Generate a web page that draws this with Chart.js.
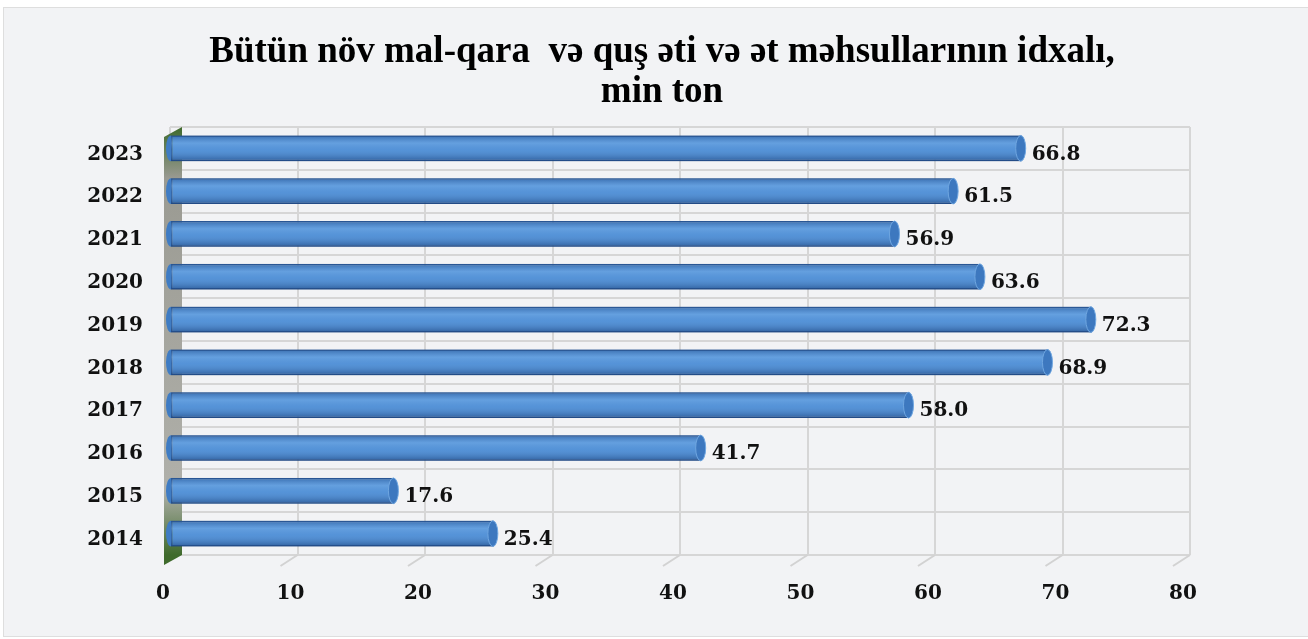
<!DOCTYPE html>
<html>
<head>
<meta charset="utf-8">
<script src="https://cdn.jsdelivr.net/npm/chart.js@4.4.0/dist/chart.umd.min.js"></script>
<style>
  body { margin: 0; background: #ffffff; }
  #wrap { position: absolute; left: 0; top: 0; width: 1308px; height: 639px; }
  #panel { position: absolute; left: 3px; top: 7px; width: 1304px; height: 628px;
           background: #f2f3f5; border: 1px solid #dedede; }
  #chart { position: absolute; left: 0; top: 0; }
</style>
</head>
<body>
<div id="wrap">
  <div id="panel"></div>
  <canvas id="chart" width="1308" height="639"></canvas>
</div>
<script>
// Chart data
var years = ['2014', '2015', '2016', '2017', '2018', '2019', '2020', '2021', '2022', '2023'];
var imports = [25.4, 17.6, 41.7, 58.0, 68.9, 72.3, 63.6, 56.9, 61.5, 66.8];
var titleLines = ['Bütün növ mal-qara  və quş əti və ət məhsullarının idxalı,', 'min ton'];
var xMin = 0, xMax = 80, xStep = 10;

var serif = '"DejaVu Serif", "Liberation Serif", serif';
var titleFont = '"Liberation Serif", "Times New Roman", serif';

// Left 3D wall and floor tick marks, drawn behind the bars
var wallPlugin = {
    id: 'wall',
    beforeDatasetsDraw: function (chart) {
        var ctx = chart.ctx, a = chart.chartArea;
        var g = ctx.createLinearGradient(0, a.top, 0, a.bottom);
        g.addColorStop(0, '#3f6a2c');
        g.addColorStop(0.12, '#9a9a92');
        g.addColorStop(0.85, '#b0b0aa');
        g.addColorStop(1, '#3f6a2c');
        ctx.save();
        ctx.fillStyle = g;
        ctx.beginPath();
        ctx.moveTo(a.left - 6, a.top + 10);
        ctx.lineTo(a.left + 12, a.top);
        ctx.lineTo(a.left + 12, a.bottom);
        ctx.lineTo(a.left - 6, a.bottom + 10);
        ctx.closePath();
        ctx.fill();
        // slanted floor marks under each x tick
        ctx.strokeStyle = '#d2d2d2';
        ctx.lineWidth = 2;
        chart.scales.x.ticks.forEach(function (t) {
            var px = chart.scales.x.getPixelForValue(t.value);
            if (px <= a.left + 1) return;
            ctx.beginPath();
            ctx.moveTo(px, a.bottom);
            ctx.lineTo(px - 17, a.bottom + 11);
            ctx.stroke();
        });
        ctx.restore();
    }
};

// Cylinder shading, end caps and value labels
var barPlugin = {
    id: 'bars3d',
    afterDatasetsDraw: function (chart) {
        var ctx = chart.ctx;
        var meta = chart.getDatasetMeta(0);
        ctx.save();
        meta.data.forEach(function (bar, i) {
            var h = bar.height, top = bar.y - h / 2;
            var g = ctx.createLinearGradient(0, top, 0, top + h);
            g.addColorStop(0, 'rgba(30,70,130,0.45)');
            g.addColorStop(0.3, 'rgba(140,190,240,0.35)');
            g.addColorStop(0.55, 'rgba(120,170,225,0.15)');
            g.addColorStop(1, 'rgba(20,55,110,0.55)');
            ctx.fillStyle = g;
            ctx.fillRect(bar.base, top, bar.x - bar.base, h);
            // right end cap
            ctx.beginPath();
            ctx.ellipse(bar.x - 1, bar.y, 5, h / 2, 0, 0, Math.PI * 2);
            ctx.fillStyle = '#3d78bf';
            ctx.fill();
            ctx.strokeStyle = '#6fa6e0';
            ctx.lineWidth = 1;
            ctx.stroke();
            // left end
            ctx.beginPath();
            ctx.ellipse(bar.base, bar.y, 5, h / 2, 0, Math.PI / 2, Math.PI * 1.5);
            ctx.fillStyle = '#3f7cc4';
            ctx.fill();
            // value label
            ctx.fillStyle = '#111';
            ctx.font = 'bold 20px ' + serif;
            ctx.textAlign = 'left';
            ctx.textBaseline = 'middle';
            ctx.fillText(imports[i].toFixed(1), bar.x + 10, bar.y + 6);
        });
        ctx.restore();
    }
};

var ctx = document.getElementById('chart').getContext('2d');
var myChart = new Chart(ctx, {
    type: 'bar',
    data: {
        labels: years,
        datasets: [{
            data: imports,
            backgroundColor: '#4f8fd6',
            borderColor: '#2c5c9c',
            borderWidth: 1.5,
            borderSkipped: false,
            categoryPercentage: 0.6,
            barPercentage: 1
        }]
    },
    options: {
        indexAxis: 'y',
        responsive: false,
        animation: false,
        layout: { padding: { left: 16, right: 0, top: 0, bottom: 0 } },
        plugins: {
            legend: { display: false },
            tooltip: { enabled: false },
            title: {
                display: true,
                text: titleLines,
                color: '#000',
                font: { family: titleFont, size: 37, weight: 'bold', lineHeight: 1.08 },
                padding: { top: 32, bottom: 15 }
            }
        },
        scales: {
            x: {
                min: xMin,
                max: xMax,
                ticks: {
                    stepSize: xStep,
                    color: '#111',
                    font: { family: serif, size: 20, weight: 'bold' },
                    padding: 27,
                    labelOffset: -7
                },
                grid: { color: '#d6d6d6', lineWidth: 2, drawTicks: false },
                border: { display: false },
                afterFit: function (axis) { axis.height = 84; }
            },
            y: {
                reverse: true,
                ticks: {
                    color: '#111',
                    font: { family: serif, size: 20, weight: 'bold' },
                    padding: 27,
                    labelOffset: 6
                },
                grid: { color: '#d6d6d6', lineWidth: 2, drawTicks: false, offset: true },
                border: { display: false },
                afterFit: function (axis) { axis.width = 154; }
            },
            // empty right axis, only reserves the right margin
            yRight: {
                type: 'category',
                labels: years,
                position: 'right',
                ticks: { display: false },
                grid: { display: false, drawTicks: false },
                border: { display: false },
                afterFit: function (axis) { axis.width = 118; }
            }
        }
    },
    plugins: [wallPlugin, barPlugin]
});
</script>
</body>
</html>
